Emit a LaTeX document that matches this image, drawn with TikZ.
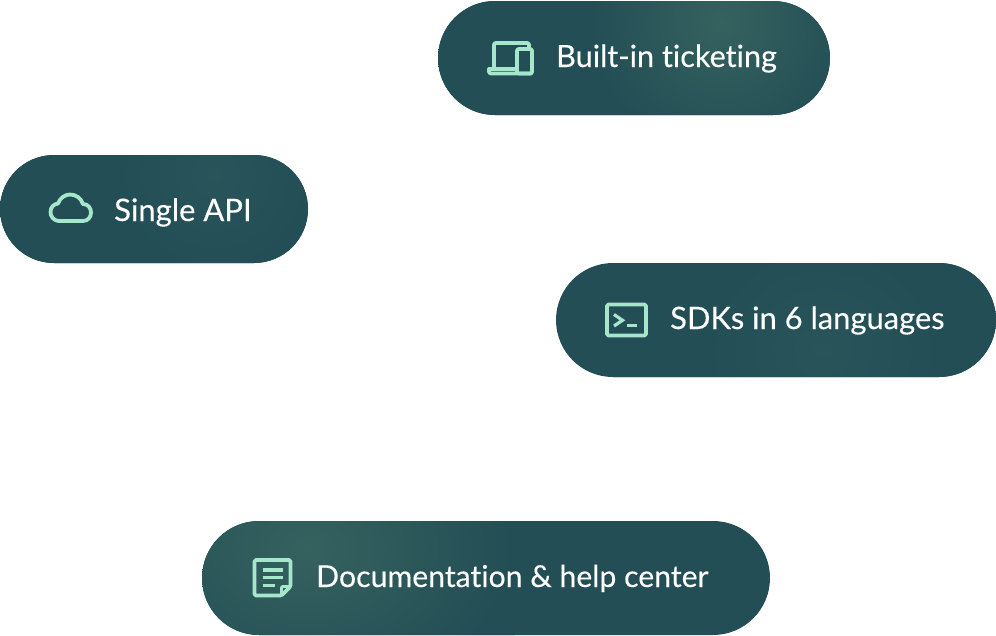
\documentclass[tikz,border=0pt]{standalone}
\usepackage{fontspec}
\setmainfont{Lato}[Ligatures=NoCommon,FakeBold=0.2]
\usetikzlibrary{shapes.misc}
\definecolor{pillbase}{HTML}{234E55}
\definecolor{pillglow}{HTML}{35625F}
\definecolor{pillsoft}{HTML}{28545A}
\definecolor{iconmint}{HTML}{A6E6CB}
\pgfdeclareradialshading{glowstrong}{\pgfpointorigin}{color(0bp)=(pillglow); color(11bp)=(pillbase); color(100bp)=(pillbase)}
\pgfdeclareradialshading{glowsoft}{\pgfpointorigin}{color(0bp)=(pillsoft); color(11bp)=(pillbase); color(100bp)=(pillbase)}
\tikzset{
  pill/.style={rounded rectangle,fill=pillbase,inner sep=0pt},
  pilltext/.style={anchor=base west,inner sep=0pt,text=white,font=\fontsize{#1}{#1}\selectfont},
  icon/.style={draw=iconmint,line width=3.8pt,line join=round,line cap=round}
}
\begin{document}
\begin{tikzpicture}[x=1pt,y=-1pt]
  \useasboundingbox[fill=white] (0,0) rectangle (996,635);
  \foreach \name/\x/\y/\w/\h/\gx/\gy/\gr/\gc in {ticketing/634/58/392/114/88/-36/300/glowstrong,api/154/209/308/108/61/-34/220/glowsoft,sdk/776/320/440/114/74/30/240/glowsoft,docs/486/578/568/114/-300/-30/340/glowstrong} {
  \node[pill,minimum width=\w pt,minimum height=\h pt,path picture={
    \shade[shading=\gc] (\gx,\gy) circle [radius=\gr];
  }] (\name) at (\x,\y) {};
  }
  \node[pilltext=30.6] (ticketinglabel) at (556,67) {Built-in ticketing};
  \node[pilltext=31] (apilabel) at (114,221) {Single API};
  \node[pilltext=30.9] (sdklabel) at (670,329) {SDKs in 6 languages};
  \node[pilltext=30.2] (docslabel) at (316,587) {Documentation \& help center};
  % laptop and phone
  \draw[icon,rounded corners=2pt] (494,69) -- (494,43) -- (529,43) -- (529,48);
  \draw[icon,rounded corners=2pt] (489,69) -- (489,73.5) -- (531.5,73.5);
  \draw[icon] (489,69) -- (517,69);
  \draw[icon,rounded corners=2pt] (517,73.5) -- (517,49) -- (532,49) -- (532,73.5) -- cycle;
  % cloud
  \draw[icon] (60,221) .. controls (53,221) and (50.5,216) .. (50.5,212)
    .. controls (50.5,207) and (54,204) .. (58,203.5)
    .. controls (60,198) and (65,194.5) .. (70,194.5)
    .. controls (76,194.5) and (81,198) .. (83,204)
    .. controls (88,204) and (91,208) .. (91,212.5)
    .. controls (91,217) and (88,221) .. (83,221) -- cycle;
  % terminal
  \draw[icon,rounded corners=1.5pt] (607,304.5) rectangle (646,335.5);
  \draw[icon,line width=3.2pt,line cap=butt,line join=miter] (614,314.5) -- (622.5,320.3) -- (614,326);
  \draw[icon,line width=3.2pt,line cap=butt] (627,325.5) -- (637,325.5);
  % document
  \draw[icon,rounded corners=1.5pt] (281.5,595.5) -- (254.5,595.5) -- (254.5,560) -- (290.5,560) -- (290.5,586.5) -- cycle;
  \draw[icon,line width=2.8pt,rounded corners=1pt] (281.5,595) -- (281.5,586.5) -- (290.5,586.5);
  \draw[icon,line width=3.2pt,line cap=butt] (262.5,570) -- (282.5,570);
  \draw[icon,line width=3.2pt,line cap=butt] (262.5,577.5) -- (282.5,577.5);
  \draw[icon,line width=3.2pt,line cap=butt] (262.5,585.5) -- (275,585.5);
\end{tikzpicture}
\end{document}
